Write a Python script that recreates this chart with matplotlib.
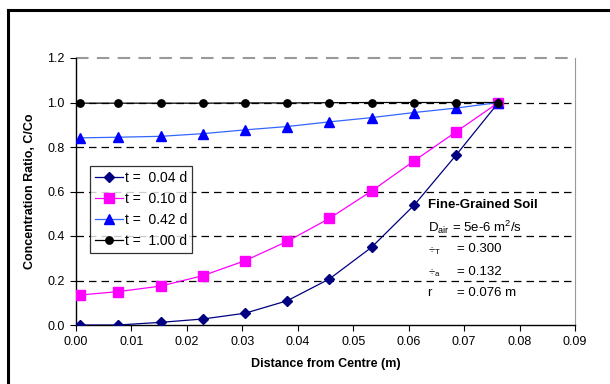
import matplotlib.pyplot as plt
from matplotlib.lines import Line2D

plt.rcParams['font.family'] = ['Liberation Sans', 'DejaVu Sans']

# distance from centre (m)
x = [0.0008, 0.0076, 0.0153, 0.0229, 0.0305, 0.0381, 0.0457, 0.0533, 0.0610, 0.0686, 0.0762]

c_004 = [0.0, 0.0, 0.012, 0.027, 0.053, 0.109, 0.207, 0.349, 0.539, 0.765, 1.0]
c_010 = [0.135, 0.150, 0.175, 0.222, 0.289, 0.376, 0.479, 0.602, 0.738, 0.869, 1.0]
c_042 = [0.841, 0.844, 0.848, 0.860, 0.877, 0.892, 0.913, 0.932, 0.955, 0.975, 1.0]
c_100 = [0.997, 0.997, 0.997, 0.997, 0.998, 0.998, 0.999, 1.0, 1.0, 1.0, 1.0]

labels = ['t =  0.04 d', 't =  0.10 d', 't =  0.42 d', 't =  1.00 d']

xticks = [0.0, 0.01, 0.02, 0.03, 0.04, 0.05, 0.06, 0.07, 0.08, 0.09]
yticks = [0.0, 0.2, 0.4, 0.6, 0.8, 1.0, 1.2]

fig = plt.figure(figsize=(6.1, 3.84), dpi=100)
ax = fig.add_axes([76 / 610, 1 - 325 / 384, 499 / 610, 267 / 384])

# outer frame: only its top and left edges fall inside the image
top = 1 - 10 / 384
left = 8 / 610
fig.add_artist(Line2D([left, 1.0], [top, top], transform=fig.transFigure,
                      color='black', lw=2.2, solid_capstyle='projecting'))
fig.add_artist(Line2D([left, left], [0.0, top], transform=fig.transFigure,
                      color='black', lw=2.2, solid_capstyle='projecting'))

# dashed horizontal grid
for yv in yticks[1:-1]:
    ax.axhline(yv, color='black', lw=0.9, ls=(0, (6, 4)), zorder=1)
ax.axhline(1.2, color='#999999', lw=1.5, ls=(0, (6, 4)), zorder=1, clip_on=False)

ax.plot(x, c_004, color='#000080', lw=0.9, marker='D', ms=5.5, label=labels[0], zorder=3)
ax.plot(x, c_010, color='#FF00FF', lw=0.9, marker='s', ms=6.5, label=labels[1], zorder=3)
ax.plot(x, c_042, color='#3366FF', lw=0.9, marker='^', ms=7.5,
        markerfacecolor='#0000FF', markeredgecolor='#0000FF', label=labels[2], zorder=3)
ax.plot(x, c_100, color='black', lw=0.9, marker='o', ms=5.3, label=labels[3], zorder=4)

ax.set_xlim(0, 0.09)
ax.set_ylim(0, 1.2)
ax.set_xticks(xticks)
ax.set_xticklabels([f'{v:.2f}' for v in xticks], fontsize=9)
ax.set_yticks(yticks)
ax.set_yticklabels([f'{v:.1f}' for v in yticks], fontsize=9)
ax.tick_params(direction='out', length=4, width=0.8, pad=4)

ax.spines['top'].set_visible(False)
ax.spines['right'].set_color('#999999')
ax.spines['left'].set_linewidth(1.0)
ax.spines['bottom'].set_linewidth(1.0)

ax.set_xlabel('Distance from Centre (m)', fontsize=9, fontweight='bold', labelpad=7)
ax.set_ylabel('Concentration Ratio, C/Co', fontsize=9, fontweight='bold', labelpad=8)

leg = ax.legend(loc='upper left', bbox_to_anchor=(0.028, 0.595), fontsize=10,
                frameon=True, fancybox=False, edgecolor='black', handlelength=2.0,
                handletextpad=0.15, borderpad=0.35, labelspacing=0.5, borderaxespad=0)
leg.get_frame().set_linewidth(0.9)

# annotation block
tx = 0.0634
tv = 0.0687
ax.text(tx, 0.539, 'Fine-Grained Soil', fontsize=9.5, fontweight='bold', va='center')
ax.text(tx, 0.44, r'D$_{\mathregular{air}}$ = 5e-6 m$^{\mathregular{2}}$/s', fontsize=9.5, va='center')
ax.text(tx, 0.332, r'$\mathregular{÷_T}$', fontsize=8, va='center')
ax.text(tv, 0.34, '= 0.300', fontsize=9.5, va='center')
ax.text(tx, 0.233, r'$\mathregular{÷_a}$', fontsize=8, va='center')
ax.text(tv, 0.24, '= 0.132', fontsize=9.5, va='center')
ax.text(tx, 0.146, 'r', fontsize=9.5, va='center')
ax.text(tv, 0.146, '= 0.076 m', fontsize=9.5, va='center')

fig.savefig('out.png', dpi=100)
